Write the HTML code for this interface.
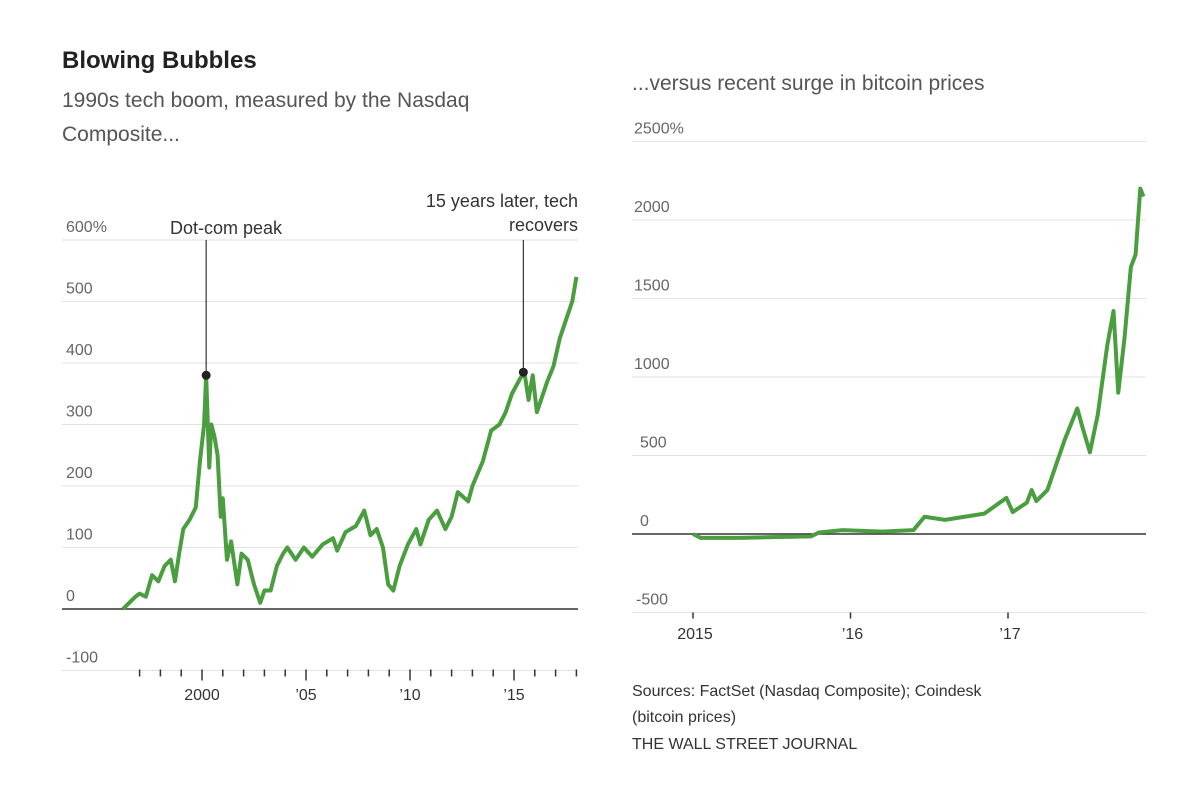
<!DOCTYPE html>
<html><head><meta charset="utf-8"><style>
body{margin:0;background:#fff;}
svg{display:block;font-family:"Liberation Sans",sans-serif;}
</style></head><body>
<svg id="c" width="1200" height="800" viewBox="0 0 1200 800">
<text x="62" y="68" font-size="24" font-weight="bold" fill="#222">Blowing Bubbles</text>
<text x="62" y="107" font-size="21" fill="#555">1990s tech boom, measured by the Nasdaq</text>
<text x="62" y="141" font-size="21" fill="#555">Composite...</text>
<text x="632" y="90" font-size="21" fill="#555">...versus recent surge in bitcoin prices</text>
<g id="left"></g>
<g id="right"></g>
<text x="632" y="696" font-size="16" fill="#333">Sources: FactSet (Nasdaq Composite); Coindesk</text>
<text x="632" y="722" font-size="16" fill="#333">(bitcoin prices)</text>
<text x="632" y="749" font-size="16" fill="#333">THE WALL STREET JOURNAL</text>
</svg>
<script>
const nasdaqYears=[1996.2,1996.5,1996.8,1997.0,1997.3,1997.6,1997.9,1998.2,1998.5,1998.7,1998.9,1999.1,1999.4,1999.7,1999.9,2000.1,2000.2,2000.35,2000.45,2000.6,2000.75,2000.9,2001.0,2001.2,2001.4,2001.7,2001.9,2002.2,2002.5,2002.8,2003.0,2003.3,2003.6,2003.9,2004.1,2004.5,2004.9,2005.3,2005.8,2006.3,2006.5,2006.9,2007.4,2007.8,2008.1,2008.4,2008.7,2008.95,2009.2,2009.5,2009.9,2010.3,2010.5,2010.9,2011.3,2011.7,2012.0,2012.3,2012.8,2013.0,2013.5,2013.9,2014.3,2014.6,2014.9,2015.3,2015.5,2015.7,2015.9,2016.1,2016.4,2016.6,2016.9,2017.2,2017.5,2017.8,2018.0];
const nasdaqValues=[0,10,20,25,20,55,45,70,80,45,90,130,145,165,240,300,380,230,300,280,250,150,180,80,110,40,90,80,40,10,30,30,70,90,100,80,100,85,105,115,95,125,135,160,120,130,100,40,30,70,105,130,105,145,160,130,150,190,175,200,240,290,300,320,350,375,385,340,380,320,350,370,395,440,470,500,540];
const nasdaqYTicks=[600,500,400,300,200,100,0,-100];
const nasdaqYLabels=["600%","500","400","300","200","100","0","-100"];
const nasdaqXTicks=[2000,2005,2010,2015];
const nasdaqXLabels=["2000","\u201905","\u201910","\u201915"];
const btcYears=[2015.0,2015.05,2015.3,2015.5,2015.75,2015.8,2015.95,2016.2,2016.4,2016.47,2016.6,2016.85,2016.99,2017.03,2017.12,2017.15,2017.18,2017.25,2017.36,2017.4,2017.44,2017.47,2017.52,2017.57,2017.63,2017.67,2017.70,2017.74,2017.78,2017.81,2017.84,2017.86];
const btcValues=[0,-25,-25,-20,-15,10,25,15,25,110,90,130,230,140,200,280,210,280,600,700,800,690,520,760,1200,1420,900,1250,1700,1780,2200,2150];
const btcYTicks=[2500,2000,1500,1000,500,0,-500];
const btcYLabels=["2500%","2000","1500","1000","500","0","-500"];
const btcXTicks=[2015,2016,2017];
const btcXLabels=["2015","\u201916","\u201917"];

const NS="http://www.w3.org/2000/svg";
function mk(parent,tag,attrs){const e=document.createElementNS(NS,tag);for(const k in attrs)e.setAttribute(k,attrs[k]);parent.appendChild(e);return e;}

const L=document.getElementById('left');
const lx=y=>202+(y-2000)*20.8;
const ly=v=>609-v*0.615;
nasdaqYTicks.forEach((t,i)=>{
  const g=mk(L,'line',{x1:62,x2:578,y1:ly(t),y2:ly(t),stroke:t===0?'#333':'#e2e2e2','stroke-width':t===0?1.5:1});
  
  
  const tx=mk(L,'text',{x:66,y:ly(t)-8,'font-size':16,fill:'#666'});
  tx.textContent=nasdaqYLabels[i];
  
  
});
for(let yr=1997;yr<=2018;yr++){
  const major=nasdaqXTicks.includes(yr);
  const tk=mk(L,'line',{x1:lx(yr),x2:lx(yr),y1:ly(-100)-1,y2:ly(-100)+(major?10:6),stroke:'#333','stroke-width':1.5});
  
  
}
nasdaqXTicks.forEach((t,i)=>{
  const tx=mk(L,'text',{x:lx(t),y:700,'font-size':16,fill:'#333','text-anchor':'middle'});
  tx.textContent=nasdaqXLabels[i];
  
  
});
const lp=mk(L,'polyline',{points:nasdaqYears.map((y,i)=>lx(y)+','+ly(nasdaqValues[i])).join(' '),fill:'none',stroke:'#4a9e3f','stroke-width':4,'stroke-linejoin':'round'});


[[2000.2,380,240,["Dot-com peak"],'middle',226],[2015.45,385,240,["15 years later, tech","recovers"],'end',578]].forEach(a=>{
  const ln=mk(L,'line',{x1:lx(a[0]),x2:lx(a[0]),y1:a[2],y2:ly(a[1]),stroke:'#333','stroke-width':1.2});
  
  
  const d=mk(L,'circle',{cx:lx(a[0]),cy:ly(a[1]),r:4.5,fill:'#222'});
  
  
  a[3].forEach((s,j)=>{
    const t=mk(L,'text',{x:a[5],y:(a[3].length>1?207:234)+j*24,'font-size':18,fill:'#333','text-anchor':a[4]});
    t.textContent=s;
    
    
  });
});

const R=document.getElementById('right');
const rx=y=>693+(y-2015)*157.5;
const ry=v=>534-v*0.157;
btcYTicks.forEach((t,i)=>{
  const g=mk(R,'line',{x1:632,x2:1146,y1:ry(t),y2:ry(t),stroke:t===0?'#333':'#e2e2e2','stroke-width':t===0?1.5:1});
  
  
  const tx=mk(R,'text',{x:t>=1000?634:(t===-500?636:640),y:ry(t)-8,'font-size':16,fill:'#666'});
  tx.textContent=btcYLabels[i];
  
  
});
btcXTicks.forEach((t,i)=>{
  const tk=mk(R,'line',{x1:rx(t),x2:rx(t),y1:ry(-500),y2:ry(-500)+6,stroke:'#333','stroke-width':1.5});
  
  
  const tx=mk(R,'text',{x:rx(t)+2,y:639,'font-size':16,fill:'#333','text-anchor':'middle'});
  tx.textContent=btcXLabels[i];
  
  
});
const rp=mk(R,'polyline',{points:btcYears.map((y,i)=>rx(y)+','+ry(btcValues[i])).join(' '),fill:'none',stroke:'#4a9e3f','stroke-width':4,'stroke-linejoin':'round'});


</script>
</body></html>
